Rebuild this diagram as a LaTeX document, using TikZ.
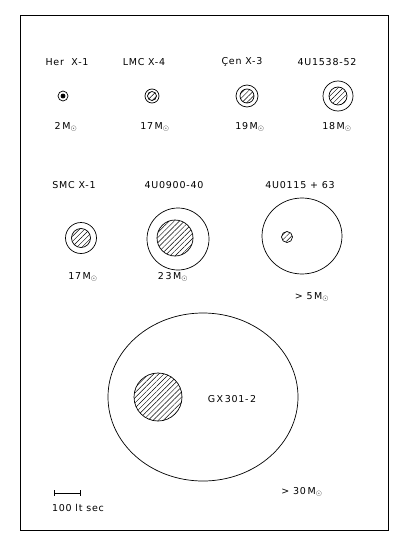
\documentclass[tikz,border=0pt]{standalone}
\usepackage{fontspec}
\setmainfont{DejaVu Sans}[LetterSpace=8]
\usetikzlibrary{patterns.meta}
\newcommand{\msun}{M$_{\odot}$}

\begin{document}
\begin{tikzpicture}[x=1pt,y=-1pt,
  star/.style={draw, line width=0.7pt},
  core/.style={draw, line width=0.7pt, pattern={Lines[angle=45, distance=3.6pt, line width=0.45pt]}},
  lab/.style={font=\fontsize{9.5}{11}\selectfont, inner sep=0pt}]
\useasboundingbox (0,0) rectangle (400,543);
\draw[line width=0.9pt] (20,15) rectangle (388,530);

% first row
\node[lab] (herx1) at (67,62) {Her\ \ X-1};
\node[lab] (lmcx4) at (144,62) {LMC X-4};
\node[lab] (cenx3) at (242,62) {Çen X-3};
\node[lab] (u1538) at (327,62) {4U1538-52};

\draw[star] (63,96) circle (5);
\draw[core, fill=black] (63,96) circle (2);
\draw[star] (152,96) circle (7);
\draw[core] (152,96) circle (4.5);
\draw[star] (247,96) circle (11);
\draw[core] (247,96) circle (7);
\draw[star] (338,96) circle (15);
\draw[core] (338,96) circle (9);

\node[lab] (mherx1) at (66,127) {2\,\msun};
\node[lab] (mlmcx4) at (155,127) {17\,\msun};
\node[lab] (mcenx3) at (250,127) {19\,\msun};
\node[lab] (mu1538) at (337,127) {18\,\msun};

% second row
\node[lab] (smcx1) at (74,185) {SMC X-1};
\node[lab] (u0900) at (174,185) {4U0900-40};
\node[lab] (u0115) at (300,185) {4U0115 + 63};

\draw[star] (81,238) circle (15.5);
\draw[core] (81,238) circle (9.5);
\draw[star] (178,239) circle (31);
\draw[core] (175,238) circle (18);
\draw[star] (302,236) ellipse (40 and 38);
\draw[core] (287,237) circle (5.5);

\node[lab] (msmcx1) at (83,277) {17\,\msun};
\node[lab] (mu0900) at (173,277) {2\,3\,\msun};
\node[lab] (mu0115) at (312,297) {> 5\,\msun};

% third row
\draw[star] (203,397) ellipse (95 and 84);
\draw[core] (158,397) circle (24);
\node[lab] (gx301) at (232,399) {G\,X\,301-\,2};
\node[lab] (mgx301) at (302,492) {> 30\,\msun};

% scale
\coordinate (barl) at (54,493);
\coordinate (barr) at (81,493);
\draw[|-|, line width=0.6pt] (barl) -- (barr);
\node[lab] (scale) at (78,508) {100 lt sec};
\end{tikzpicture}
\end{document}
